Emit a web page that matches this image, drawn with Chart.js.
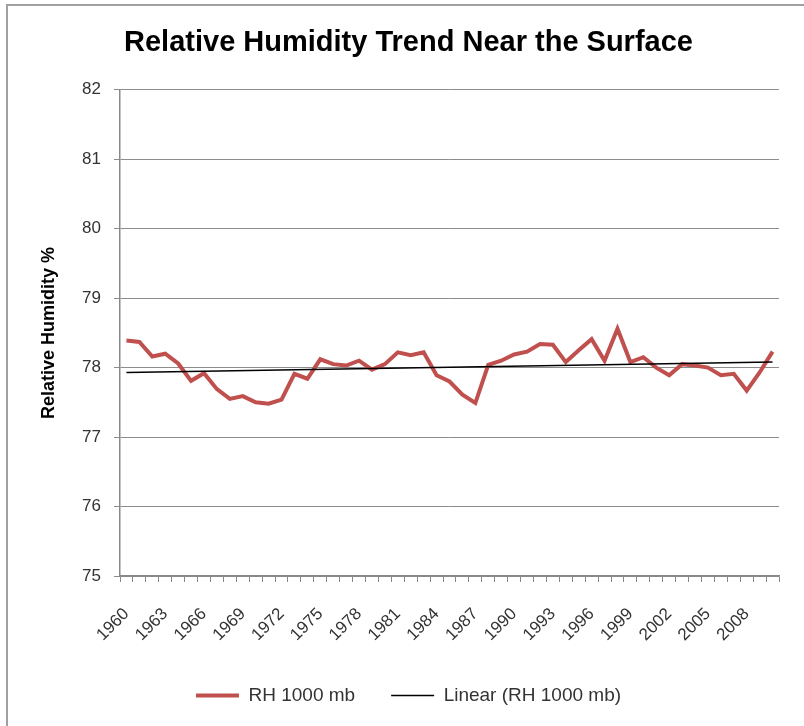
<!DOCTYPE html>
<html>
<head>
<meta charset="utf-8">
<script src="https://cdn.jsdelivr.net/npm/chart.js@4"></script>
<style>
  html, body { margin: 0; padding: 0; background: #fff; }
  #wrap { position: relative; width: 804px; height: 726px; }
  #frame { position: absolute; left: 6px; top: 4px; right: 0; bottom: 0;
           border-top: 2px solid #a0a0a0; border-left: 2px solid #a0a0a0; }
  canvas { position: absolute; left: 0; top: 0; }
</style>
</head>
<body>
<div id="wrap">
  <div id="frame"></div>
  <canvas id="rhChart" width="804" height="726"></canvas>
</div>
<script>
// --- data ---
const years = [];
for (let y = 1960; y <= 2010; y++) years.push(String(y));

const rh1000 = [
  78.39, 78.37, 78.16, 78.20, 78.06, 77.81, 77.92, 77.69, 77.55, 77.59,
  77.50, 77.48, 77.54, 77.91, 77.84, 78.12, 78.05, 78.03, 78.10, 77.97,
  78.05, 78.22, 78.18, 78.22, 77.89, 77.80, 77.61, 77.49, 78.04, 78.10,
  78.19, 78.23, 78.34, 78.33, 78.08, 78.25, 78.41, 78.10, 78.56, 78.08,
  78.15, 78.00, 77.89, 78.05, 78.03, 78.00, 77.89, 77.91, 77.67, 77.93,
  78.23
];

// trend line end values (first / last year), everything between is spanned
const trendEnds = [77.93, 78.08];
const trend = years.map((_, i) => i === 0 ? trendEnds[0] : (i === years.length - 1 ? trendEnds[1] : null));

const yTicks = [75, 76, 77, 78, 79, 80, 81, 82];

const FONT = "'Liberation Sans', Arial, sans-serif";

new Chart(document.getElementById('rhChart'), {
  type: 'line',
  data: {
    labels: years,
    datasets: [
      {
        label: 'RH 1000 mb',
        data: rh1000,
        borderColor: '#c0504d',
        borderWidth: 4,
        pointRadius: 0,
        tension: 0,
        order: 2
      },
      {
        label: 'Linear (RH 1000 mb)',
        data: trend,
        spanGaps: true,
        borderColor: '#000000',
        borderWidth: 1.5,
        pointRadius: 0,
        order: 1
      }
    ]
  },
  options: {
    responsive: false,
    animation: false,
    layout: { padding: { left: 38, right: 25, top: 18, bottom: 11 } },
    plugins: {
      title: {
        display: true,
        text: 'Relative Humidity Trend Near the Surface',
        color: '#000',
        font: { family: FONT, size: 29, weight: 'bold' },
        padding: { top: 8, bottom: 29 }
      },
      legend: {
        position: 'bottom',
        maxHeight: 72,
        labels: {
          usePointStyle: true,
          pointStyle: 'line',
          pointStyleWidth: 43,
          color: '#333',
          padding: 36,
          font: { family: FONT, size: 19 },
          sort: (a, b) => a.datasetIndex - b.datasetIndex
        }
      },
      tooltip: { enabled: false }
    },
    scales: {
      x: {
        offset: true,
        grid: { offset: true, drawOnChartArea: false, drawTicks: true, tickLength: 6, color: '#888' },
        border: { color: '#888', width: 1.5 },
        ticks: {
          autoSkip: false,
          minRotation: 45,
          maxRotation: 45,
          color: '#333',
          padding: 22,
          font: { family: FONT, size: 17 },
          callback: (v, i) => (i % 3 === 0 ? years[i] : '')
        },
        afterFit: s => { s.height = 74; s.paddingRight = 0; }
      },
      y: {
        min: 75,
        max: 82,
        afterBuildTicks: s => { s.ticks = yTicks.map(v => ({ value: v })); },
        grid: { color: '#8c8c8c', lineWidth: 1, tickLength: 6 },
        border: { color: '#888', width: 1.5 },
        ticks: { color: '#333', padding: 13, font: { family: FONT, size: 17 } },
        title: {
          display: true,
          text: 'Relative Humidity %',
          color: '#000',
          font: { family: FONT, size: 18, weight: 'bold' },
          padding: { top: 0, bottom: 4 }
        },
        afterFit: s => { s.width = 82; }
      }
    }
  }
});
</script>
</body>
</html>
